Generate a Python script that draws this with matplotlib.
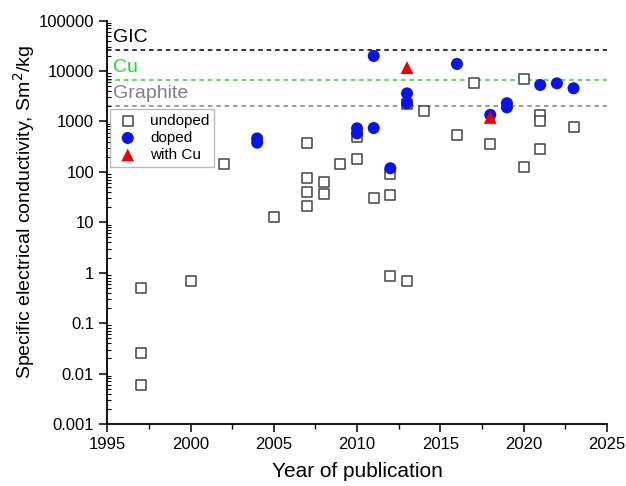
import numpy as np
import matplotlib
matplotlib.use("Agg")
import matplotlib.pyplot as plt
from matplotlib.ticker import LogLocator, FuncFormatter, MultipleLocator, NullFormatter

plt.rcParams['font.family'] = ['Liberation Sans', 'DejaVu Sans']

# ---------------------------------------------------------------
# data
# ---------------------------------------------------------------
undoped_year = [1997, 1997, 1997, 2000, 2002, 2005, 2007, 2007, 2007, 2007,
                2008, 2008, 2009, 2010, 2010, 2011, 2012, 2012, 2012, 2013,
                2013, 2014, 2016, 2017, 2018, 2020, 2020, 2021, 2021, 2021, 2023]
undoped_val = [0.5, 0.025, 0.006, 0.7, 142, 12.7, 370, 75, 39, 21,
               64, 37, 142, 500, 178, 31, 91, 35, 0.87, 0.69,
               2200, 1620, 540, 5700, 350, 7000, 123, 1350, 1000, 290, 780]

doped_year = [2004, 2004, 2010, 2010, 2011, 2011, 2012, 2013, 2013, 2016,
              2018, 2019, 2019, 2021, 2022, 2023]
doped_val = [460, 380, 730, 580, 19900, 740, 118, 3600, 2300, 13800,
             1350, 2300, 1900, 5300, 5700, 4550]

cu_year = [2013, 2018]
cu_val = [11700, 1200]

ref_names = ["GIC", "Cu", "Graphite"]
ref_vals = [26000, 6500, 2000]
ref_colors = ["black", "#22dd22", "gray"]

# ---------------------------------------------------------------
# plot
# ---------------------------------------------------------------
fig = plt.figure(figsize=(6.26, 4.86), dpi=100)
ax = fig.add_axes([0.1714, 0.1276, 0.798, 0.83])

for name, v, c in zip(ref_names, ref_vals, ref_colors):
    ax.axhline(v, color=c, linestyle=(0, (3, 2.5)), linewidth=1.1, zorder=1)
    ax.text(1995.35, v * 1.22, name, color=c, fontsize=14, va='bottom', ha='left')

ax.scatter(undoped_year, undoped_val, marker='s', s=48, facecolor='white',
           edgecolor='#444444', linewidth=1.1, label='undoped', zorder=2)
ax.scatter(doped_year, doped_val, marker='o', s=75, color='#0a14e6',
           edgecolor='none', label='doped', zorder=3)
ax.scatter(cu_year, cu_val, marker='^', s=85, color='#ee0000',
           edgecolor='none', label='with Cu', zorder=4)

ax.set_yscale('log')
ax.set_xlim(1995, 2025)
ax.set_ylim(0.001, 100000)

ax.xaxis.set_major_locator(MultipleLocator(5))
ax.xaxis.set_minor_locator(MultipleLocator(2.5))
ax.yaxis.set_major_locator(LogLocator(base=10, numticks=20))
ax.yaxis.set_minor_locator(LogLocator(base=10, subs=np.arange(2, 10), numticks=20))
ax.yaxis.set_minor_formatter(NullFormatter())
ax.yaxis.set_major_formatter(FuncFormatter(lambda v, p: '%g' % v if v < 1 else '%d' % round(v)))

ax.tick_params(axis='both', which='major', direction='out', length=6, width=1.1, labelsize=12)
ax.tick_params(axis='x', which='minor', direction='out', length=3.5, width=1.0)
ax.tick_params(axis='y', which='minor', direction='in', length=3, width=0.8)

for s in ['top', 'right']:
    ax.spines[s].set_visible(False)
for s in ['left', 'bottom']:
    ax.spines[s].set_linewidth(1.3)

ax.set_xlabel('Year of publication', fontsize=15, labelpad=7)
ax.set_ylabel('Specific electrical conductivity, Sm$^2$/kg', fontsize=14, labelpad=1.5)
ax.yaxis.label.set_y(0.526)

leg = ax.legend(loc='upper left', bbox_to_anchor=(0.005, 0.78), borderaxespad=0,
                fontsize=11, frameon=True, fancybox=False, edgecolor='#aaaaaa',
                handletextpad=0.6, borderpad=0.3, labelspacing=0.2,
                handlelength=1.75)
leg.get_frame().set_linewidth(1.0)

fig.savefig('out.png', dpi=100)
